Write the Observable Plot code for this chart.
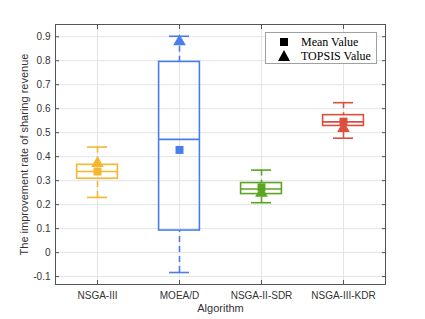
<!DOCTYPE html>
<html><head><meta charset="utf-8">
<script src="https://cdn.jsdelivr.net/npm/d3@7"></script>
<script src="https://cdn.jsdelivr.net/npm/@observablehq/plot@0.6"></script>
<style>
body{margin:0;background:#fff;}
#wrap{position:relative;width:425px;height:319px;}
.legend{position:absolute;left:265px;top:32px;width:110px;height:30px;border:1px solid #a0a0a0;background:#fff;font-family:"Liberation Serif","Times New Roman",serif;font-size:12px;color:#000;}
.legend .row{position:absolute;left:0;height:14px;line-height:14px;}
.legend .txt{position:absolute;left:35px;white-space:nowrap;}
.sq{position:absolute;left:14px;top:3px;width:8px;height:8px;background:#000;}
.tri{position:absolute;left:12px;top:1px;width:0;height:0;border-left:6px solid transparent;border-right:6px solid transparent;border-bottom:11px solid #000;}
</style></head><body><div id="wrap"></div>
<script>
const algorithms = ["NSGA-III", "MOEA/D", "NSGA-II-SDR", "NSGA-III-KDR"];
const lowerWhisker = [0.230, -0.083, 0.208, 0.477];
const q1Values = [0.308, 0.092, 0.244, 0.528];
const medianValues = [0.338, 0.472, 0.265, 0.545];
const q3Values = [0.366, 0.795, 0.290, 0.573];
const upperWhisker = [0.440, 0.902, 0.344, 0.625];
const meanValues = [0.338, 0.428, 0.272, 0.546];
const topsisValues = [0.372, 0.880, 0.248, 0.518];
const colors = ["#F5B630", "#4A7DEB", "#5AA521", "#DA4F3D"];
const yTicks = [-0.1, 0, 0.1, 0.2, 0.3, 0.4, 0.5, 0.6, 0.7, 0.8, 0.9];
const legendLabels = ["Mean Value", "TOPSIS Value"];
const xLabel = "Algorithm";
const yLabel = "The improvement rate of sharing revenue";

const data = algorithms.map((a, i) => ({
  a, lo: lowerWhisker[i], q1: q1Values[i], med: medianValues[i], q3: q3Values[i],
  hi: upperWhisker[i], mean: meanValues[i], topsis: topsisValues[i], c: colors[i]
}));

const sw = 1.6;
const plot = Plot.plot({
  width: 425, height: 319,
  marginLeft: 55, marginRight: 40, marginTop: 24, marginBottom: 35,
  style: {fontFamily: "'Liberation Sans', Arial, sans-serif", fontSize: "10px", color: "#333", background: "#fff"},
  x: {type: "band", domain: algorithms, padding: 0, label: null},
  y: {domain: [-0.133, 0.951], label: null},
  color: {type: "identity"},
  marks: [
    Plot.gridY(yTicks, {stroke: "#e4e4e4", strokeOpacity: 1}),
    Plot.gridX(algorithms, {stroke: "#e4e4e4", strokeOpacity: 1}),
    Plot.ruleX(data, {x: "a", y1: "lo", y2: "q1", stroke: "c", strokeWidth: sw, strokeDasharray: "6,4"}),
    Plot.ruleX(data, {x: "a", y1: "hi", y2: "q3", stroke: "c", strokeWidth: sw, strokeDasharray: "6,4"}),
    Plot.tickY(data, {x: "a", y: "lo", stroke: "c", strokeWidth: sw, inset: 31}),
    Plot.tickY(data, {x: "a", y: "hi", stroke: "c", strokeWidth: sw, inset: 31}),
    Plot.barY(data, {x: "a", y1: "q1", y2: "q3", fill: "none", stroke: "c", strokeWidth: sw, insetLeft: 20.6, insetRight: 20.6}),
    Plot.tickY(data, {x: "a", y: "med", stroke: "c", strokeWidth: sw, inset: 20.6}),
    Plot.dot(data, {x: "a", y: "mean", symbol: "square", r: 4.5, fill: "c", stroke: null}),
    Plot.dot(data, {x: "a", y: "topsis", symbol: "triangle", r: 4.7, fill: "c", stroke: null}),
    Plot.frame({stroke: "#555", strokeWidth: 1}),
    Plot.axisY(yTicks, {anchor: "left", tickSize: -4, tickPadding: 9, stroke: "#555", fill: "#333", fontSize: 10,
      tickFormat: d => d === 0 ? "0" : String(+d.toFixed(1)), label: null}),
    Plot.axisY(yTicks, {anchor: "right", tickSize: -4, stroke: "#555", tickFormat: () => "", label: null}),
    Plot.axisX(algorithms, {anchor: "top", tickSize: -4, stroke: "#555", tickFormat: () => "", label: null}),
    Plot.axisX(algorithms, {anchor: "bottom", tickSize: -4, tickPadding: 11, stroke: "#555", fill: "#333", fontSize: 10, label: null}),
    Plot.text([xLabel], {frameAnchor: "bottom", dy: 27, fontSize: 11, fill: "#333"}),
    Plot.text([yLabel], {frameAnchor: "left", dx: -31, rotate: -90, textAnchor: "middle", fontSize: 11, fill: "#333"})
  ]
});
const wrap = document.getElementById("wrap");
wrap.appendChild(plot);

const legend = document.createElement("div");
legend.className = "legend";
legendLabels.forEach((lab, i) => {
  const row = document.createElement("div");
  row.className = "row";
  row.style.top = (2 + i * 14) + "px";
  row.style.width = "110px";
  const sym = document.createElement("div");
  sym.className = i === 0 ? "sq" : "tri";
  const t = document.createElement("div");
  t.className = "txt";
  t.textContent = lab;
  row.appendChild(sym); row.appendChild(t);
  legend.appendChild(row);
});
wrap.appendChild(legend);
</script></body></html>
